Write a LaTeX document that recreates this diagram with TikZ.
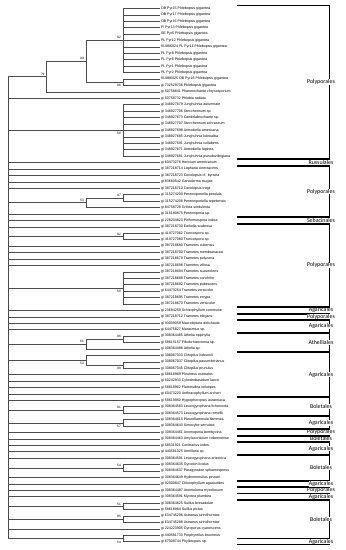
\documentclass[tikz,border=0pt]{standalone}
\usepackage{fontspec}
\setmainfont{Liberation Sans}
\newfontfamily\calib{Carlito}
\usetikzlibrary{calc}
\newcommand{\leafy}[1]{(8.3+(#1-1)*6.426)}
\begin{document}
\begin{tikzpicture}[x=1pt,y=-1pt,
  br/.style={draw=black!70, line width=0.45pt},
  leaf/.style={anchor=west, inner sep=0pt, font=\fontsize{3.6}{4}\selectfont},
  bs/.style={anchor=east, inner sep=0pt, font=\fontsize{3.2}{3.5}\selectfont},
  clade/.style={draw=black, line width=0.9pt},
  cname/.style={font=\calib\fontsize{5.9}{6}\selectfont, fill=white, inner xsep=0.4pt, inner ysep=0.2pt}]
\fill[white] (0,0) rectangle (346,550);
\useasboundingbox (0,0) rectangle (346,550);
% leaves
\foreach \t [count=\i] in {
OB Pyr15 Phlebopsis gigantea,
OB Pyr17 Phlebopsis gigantea,
OB Pyr16 Phlebopsis gigantea,
FI Pyr13 Phlebopsis gigantea,
SE Pyr5 Phlebopsis gigantea,
PL Pyr12 Phlebopsis gigantea,
KU886024 PL Pyr11 Phlebopsis gigantea,
PL Pyr8 Phlebopsis gigantea,
PL Pyr6 Phlebopsis gigantea,
PL Pyr1 Phlebopsis gigantea,
PL Pyr2 Phlebopsis gigantea,
KU886025 OB Pyr16 Phlebopsis gigantea,
gi 732529736 Phlebopsis gigantea,
gi 50758841 Phanerochaete chrysosporium,
gi 50758732 Phlebia radiata,
gi 348927679 Junghuhnia autumnale,
gi 348927706 Steccherinum sp.,
gi 348927673 Candelabrochaete sp.,
gi 348927707 Steccherinum ochraceum,
gi 348927698 Antrodiella americana,
gi 348927685 Junghuhnia luteoalba,
gi 348927691 Junghuhnia collabens,
gi 348927671 Antrodiella faginea,
gi 348927681 Junghuhnia pseudozilingiana,
gi 60473278 Hericium americanum,
gi 387218714 Lopharia cinerascens,
gi 387218723 Coriolopsis cf. byrsina,
gi 83660542 Ganoderma tsugae,
gi 387218710 Coriolopsis trogii,
gi 315274200 Perenniporiella pendula,
gi 315274208 Perenniporiella tepeitensis,
gi 84758728 Grifola sordulenta,
gi 315180875 Perenniporia sp.,
gi 228204823 Piriformospora indica,
gi 387218730 Earliella scabrosa,
gi 419727082 Truncospora sp.,
gi 419727080 Truncospora sp.,
gi 387218680 Trametes cubensis,
gi 387218700 Trametes membranacea,
gi 387218679 Trametes polyzona,
gi 387218698 Trametes villosa,
gi 387218694 Trametes suaveolens,
gi 387218688 Trametes conchifer,
gi 387218692 Trametes pubescens,
gi 64473254 Trametes versicolor,
gi 387218695 Trametes ectypa,
gi 387218670 Trametes versicolor,
gi 23694259 Schizophyllum commune,
gi 387218712 Trametes elegans,
gi 93009059 Macrolepiota dolichaula,
gi 64475827 Marasmius sp.,
gi 308364485 Athelia epiphylla,
gi 58615157 Fibulorhizoctonia sp.,
gi 308364488 Athelia sp.,
gi 308067033 Clitopilus hobsonii,
gi 308067037 Clitopilus passeckerianus,
gi 308067045 Clitopilus prunulus,
gi 58618969 Pleurotus ostreatus,
gi 60242933 Cylindrobasidium laeve,
gi 58618962 Flammulina velutipes,
gi 60473220 Anthracophyllum archeri,
gi 58618960 Hygrophoropsis aurantiaca,
gi 308364583 Leucogyrophana lichenicola,
gi 308364573 Leucogyrophana romellii,
gi 308364615 Pleuroflammula flammea,
gi 308364643 Simocybe serrulata,
gi 308364461 Anomoporia bombycina,
gi 308364463 Amylocorticium cebennense,
gi 58531921 Cortinarius iodes,
gi 440581025 Armillaria sp.,
gi 308364591 Leucogyrophana arizonica,
gi 308364635 Gyrodon lividus,
gi 308364637 Paragyrodon sphaerosporus,
gi 308364649 Hydnomerulius pinastri,
gi 92000847 Chlorophyllum agaricoides,
gi 308364487 Anomoloma myceliosum,
gi 308364591 Mycena plumbea,
gi 308364625 Suillus bresadolae,
gi 58618984 Suillus pictus,
gi 634745296 Astraeus sirindhorniae,
gi 634745298 Astraeus sirindhorniae,
gi 224223905 Gyroporus cyanescens,
gi 440581733 Porphyrellus brunneus,
gi 67008744 Phyllotopsis sp.}{
  \coordinate (L\i) at (160,{\leafy{\i}});
  \node[leaf] (T\i) at (160.8,{\leafy{\i}}) {\t};
}
% internal nodes
\coordinate (N92a) at (123,40.43);
\coordinate (N96a) at (123,82.20);
\coordinate (N99) at (86,61.31);
\coordinate (N79) at (46.7,76.58);
\coordinate (R) at (8.3,76.58);
\coordinate (N56a) at (123,130.39);
\coordinate (N97) at (123,197.87);
\coordinate (N53a) at (86,202.69);
\coordinate (N92b) at (123,236.42);
\coordinate (N56b) at (123,287.83);
\coordinate (N96b) at (123,339.24);
\coordinate (N61) at (86,344.06);
\coordinate (N90) at (123,364.94);
\coordinate (N53b) at (86,360.12);
\coordinate (N91) at (123,409.93);
\coordinate (N57) at (123,422.78);
\coordinate (N54a) at (123,467.76);
\coordinate (N51) at (123,506.32);
\coordinate (N95) at (123,519.17);
\coordinate (N54b) at (123,538.45);
% branches
\foreach \c in {N79,L15,N56a,L25,L26,L27,L28,L29,N53a,L33,L34,L35,N92b,L38,L39,L40,L41,N56b,L48,L49,L50,L51,N61,N53b,L58,L59,L60,L61,L62,N91,N57,L67,L68,L69,L70,L71,N54a,L74,L75,L76,L77,N51,N95,L82,N54b}
  \draw[br] (R) |- (\c);
\foreach \c in {N99,L14} \draw[br] (N79) |- (\c);
\foreach \c in {N92a,N96a} \draw[br] (N99) |- (\c);
\foreach \i in {1,...,11} \draw[br] (N92a) |- (L\i);
\foreach \i in {12,13} \draw[br] (N96a) |- (L\i);
\foreach \i in {16,...,24} \draw[br] (N56a) |- (L\i);
\foreach \c in {N97,L32} \draw[br] (N53a) |- (\c);
\foreach \i in {30,31} \draw[br] (N97) |- (L\i);
\foreach \i in {36,37} \draw[br] (N92b) |- (L\i);
\foreach \i in {42,...,47} \draw[br] (N56b) |- (L\i);
\foreach \c in {N96b,L54} \draw[br] (N61) |- (\c);
\foreach \i in {52,53} \draw[br] (N96b) |- (L\i);
\foreach \c in {L55,N90} \draw[br] (N53b) |- (\c);
\foreach \i in {56,57} \draw[br] (N90) |- (L\i);
\foreach \i in {63,64} \draw[br] (N91) |- (L\i);
\foreach \i in {65,66} \draw[br] (N57) |- (L\i);
\foreach \i in {72,73} \draw[br] (N54a) |- (L\i);
\foreach \i in {78,79} \draw[br] (N51) |- (L\i);
\foreach \i in {80,81} \draw[br] (N95) |- (L\i);
\foreach \i in {83,84} \draw[br] (N54b) |- (L\i);
% bootstrap values
\node[bs] (b1) at ($(N92a)+(-2,-2.7)$) {92};
\node[bs] (b2) at ($(N99)+(-2,-3)$) {99};
\node[bs] (b3) at ($(N79)+(-2,-2.6)$) {79};
\node[bs] (b4) at ($(N96a)+(-2,3.2)$) {96};
\node[bs] (b5) at ($(N56a)+(-2,3.4)$) {56};
\node[bs] (b6) at ($(N53a)+(-2,-2.4)$) {53};
\node[bs] (b7) at ($(N97)+(-2,-2.7)$) {97};
\node[bs] (b8) at ($(N92b)+(-2,-2.4)$) {92};
\node[bs] (b9) at ($(N56b)+(-2,3.8)$) {56};
\node[bs] (b10) at ($(N61)+(-2,-2.5)$) {61};
\node[bs] (b11) at ($(N96b)+(-2,-2.4)$) {96};
\node[bs] (b12) at ($(N53b)+(-2,3.4)$) {53};
\node[bs] (b13) at ($(N90)+(-2,3.4)$) {90};
\node[bs] (b14) at ($(N91)+(-2,-2.4)$) {91};
\node[bs] (b15) at ($(N57)+(-2,3.6)$) {57};
\node[bs] (b16) at ($(N54a)+(-2,-2.7)$) {54};
\node[bs] (b17) at ($(N51)+(-2,-2.4)$) {51};
\node[bs] (b18) at ($(N95)+(-2,-2.4)$) {95};
\node[bs] (b19) at ($(N54b)+(-2,3.6)$) {54};
% clade brackets
\newcommand{\cladebox}[4]{%
  \draw[clade] (237,{\leafy{#1}-2.8}) -- (329,{\leafy{#1}-2.8}) -- (329,{\leafy{#2}+2.8}) -- (237,{\leafy{#2}+2.8});
  \node[cname] (#4) at (321,{(\leafy{#1}+\leafy{#2})/2}) {#3};
}
\cladebox{1}{24}{Polyporales}{c1}
\cladebox{25}{25}{Russulales}{c2}
\cladebox{26}{33}{Polyporales}{c3}
\cladebox{34}{34}{Sebacinales}{c4}
\cladebox{35}{47}{Polyporales}{c5}
\cladebox{48}{48}{Agaricales}{c6}
\cladebox{49}{49}{Polyporales}{c7}
\cladebox{50}{51}{Agaricales}{c8}
\cladebox{52}{54}{Athelliales}{c9}
\cladebox{55}{61}{Agaricales}{c10}
\cladebox{62}{64}{Boletales}{c11}
\cladebox{65}{66}{Agaricales}{c12}
\cladebox{67}{67}{Polyporales}{c13}
\cladebox{68}{68}{Boletales}{c14}
\cladebox{69}{70}{Agaricales}{c15}
\cladebox{71}{74}{Boletales}{c16}
\cladebox{75}{75}{Agaricales}{c17}
\cladebox{76}{76}{Polyporales}{c18}
\cladebox{77}{77}{Agaricales}{c19}
\cladebox{78}{83}{Boletales}{c20}
\cladebox{84}{84}{Agaricales}{c21}
\end{tikzpicture}
\end{document}
